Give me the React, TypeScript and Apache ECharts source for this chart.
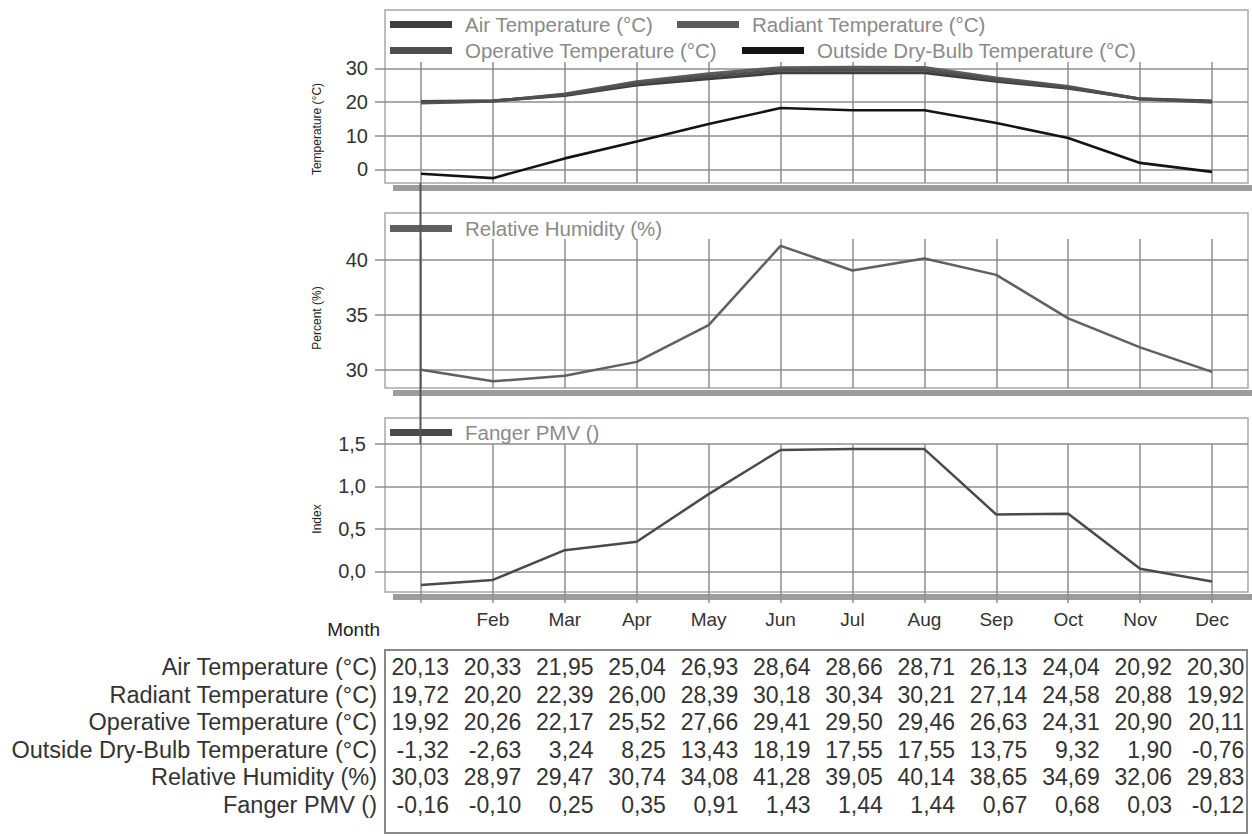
import React, { useEffect, useRef } from 'react';
import * as echarts from 'echarts';

const months = ['Jan', 'Feb', 'Mar', 'Apr', 'May', 'Jun', 'Jul', 'Aug', 'Sep', 'Oct', 'Nov', 'Dec'];
const airTemp = [20.13, 20.33, 21.95, 25.04, 26.93, 28.64, 28.66, 28.71, 26.13, 24.04, 20.92, 20.30];
const radiantTemp = [19.72, 20.20, 22.39, 26.00, 28.39, 30.18, 30.34, 30.21, 27.14, 24.58, 20.88, 19.92];
const operativeTemp = [19.92, 20.26, 22.17, 25.52, 27.66, 29.41, 29.50, 29.46, 26.63, 24.31, 20.90, 20.11];
const outsideTemp = [-1.32, -2.63, 3.24, 8.25, 13.43, 18.19, 17.55, 17.55, 13.75, 9.32, 1.90, -0.76];
const humidity = [30.03, 28.97, 29.47, 30.74, 34.08, 41.28, 39.05, 40.14, 38.65, 34.69, 32.06, 29.83];
const pmv = [-0.16, -0.10, 0.25, 0.35, 0.91, 1.43, 1.44, 1.44, 0.67, 0.68, 0.03, -0.12];

const seriesNames = [
  'Air Temperature (°C)',
  'Radiant Temperature (°C)',
  'Operative Temperature (°C)',
  'Outside Dry-Bulb Temperature (°C)',
  'Relative Humidity (%)',
  'Fanger PMV ()',
];
const axisNames = ['Temperature (°C)', 'Percent (%)', 'Index'];
const tableValues = [airTemp, radiantTemp, operativeTemp, outsideTemp, humidity, pmv];

const FONT = '"Liberation Sans", Arial, sans-serif';
const GRID_COLOR = '#8e8e8e';
const W = 1252;
const H = 837;
const PLOT_LEFT = 385;
const PLOT_RIGHT = 1248;

// layout of the three panels (frame top/bottom, grid top/bottom, axis extent)
const panels = [
  { frameTop: 10, frameBottom: 183, gridTop: 62, gridBottom: 183, min: -4.07, max: 31.87, step: 10, nameY: 129 },
  { frameTop: 213, frameBottom: 388, gridTop: 239, gridBottom: 388, min: 28.364, max: 41.909, step: 5, nameY: 318 },
  { frameTop: 418, frameBottom: 592, gridTop: 444, gridBottom: 592, min: -0.2426, max: 1.5, step: 0.5, nameY: 519 },
];

const fmt2 = (v: number) => v.toFixed(2).replace('.', ',');

export default function App() {
  const ref = useRef<HTMLDivElement>(null);

  useEffect(() => {
    if (!ref.current) return;
    const chart = echarts.init(ref.current, null, { renderer: 'svg' });

    const grid = panels.map((p) => ({
      left: PLOT_LEFT,
      right: W - PLOT_RIGHT,
      top: p.gridTop,
      height: p.gridBottom - p.gridTop,
      containLabel: false,
    }));

    const xAxis = panels.map((p, i) => {
      const last = i === 2;
      return {
        type: 'category',
        gridIndex: i,
        data: months,
        boundaryGap: true,
        axisLine: { show: false, onZero: false },
        axisTick: {
          show: last,
          alignWithLabel: true,
          interval: 0,
          length: 11,
          lineStyle: { color: GRID_COLOR, width: 1.5 },
        },
        axisLabel: {
          show: last,
          interval: 0,
          margin: 18,
          fontSize: 19,
          color: '#333',
          fontFamily: FONT,
          formatter: (v: string, idx: number) => (idx === 0 ? '' : v),
        },
        splitLine: {
          show: true,
          interval: 0,
          alignWithLabel: true,
          lineStyle: { color: GRID_COLOR, width: 1.5 },
        },
      };
    });

    const yAxis = panels.map((p, i) => ({
      type: 'value',
      gridIndex: i,
      min: p.min,
      max: p.max,
      minInterval: p.step,
      maxInterval: p.step,
      axisLine: { show: false },
      axisTick: { show: true, length: 10, lineStyle: { color: GRID_COLOR, width: 1.5 } },
      axisLabel: {
        margin: i === 2 ? 19 : 17,
        fontSize: 20,
        color: '#333',
        fontFamily: FONT,
        showMinLabel: false,
        showMaxLabel: i === 2,
        formatter: (v: number) => (i === 2 ? v.toFixed(1).replace('.', ',') : String(Math.round(v))),
      },
      splitLine: {
        show: true,
        showMinLine: false,
        showMaxLine: i === 2,
        lineStyle: { color: GRID_COLOR, width: 1.5 },
      },
    }));

    const lineSeries = (name: string, data: number[], idx: number, color: string, width: number) => ({
      type: 'line',
      name,
      data,
      xAxisIndex: idx,
      yAxisIndex: idx,
      symbol: 'none',
      color,
      lineStyle: { color, width },
      z: 3,
    });

    const series = [
      lineSeries(seriesNames[0], airTemp, 0, '#3e3e3e', 3),
      lineSeries(seriesNames[1], radiantTemp, 0, '#5c5c5c', 3),
      lineSeries(seriesNames[2], operativeTemp, 0, '#4f4f4f', 3),
      lineSeries(seriesNames[3], outsideTemp, 0, '#141414', 2.6),
      lineSeries(seriesNames[4], humidity, 1, '#606060', 2.5),
      lineSeries(seriesNames[5], pmv, 2, '#4a4a4a', 2.5),
    ];

    const legendPos = [
      { left: 390, top: 14 },
      { left: 677, top: 14 },
      { left: 390, top: 40 },
      { left: 742, top: 40 },
      { left: 390, top: 218 },
      { left: 390, top: 422 },
    ];
    const legend = seriesNames.map((n, i) => ({
      data: [n],
      left: legendPos[i].left,
      top: legendPos[i].top,
      padding: 0,
      orient: 'horizontal',
      icon: 'rect',
      itemWidth: 62,
      itemHeight: 7,
      selectedMode: false,
      textStyle: { fontSize: 20.5, color: '#8a8a8a', fontFamily: FONT, padding: [0, 0, 0, 8] },
    }));

    const graphic: any[] = [];
    panels.forEach((p) => {
      graphic.push({
        type: 'rect',
        z: -1,
        shape: { x: 393, y: p.frameBottom + 2, width: W - 393, height: 6 },
        style: { fill: '#9c9c9c' },
      });
      graphic.push({
        type: 'rect',
        z: -1,
        shape: { x: PLOT_LEFT, y: p.frameTop, width: PLOT_RIGHT - PLOT_LEFT, height: p.frameBottom - p.frameTop },
        style: { fill: 'none', stroke: '#a8a8a8', lineWidth: 1.5 },
      });
    });
    axisNames.forEach((n, i) => {
      graphic.push({
        type: 'text',
        x: 317,
        y: panels[i].nameY,
        rotation: Math.PI / 2,
        style: { text: n, fontSize: 12, fill: '#222', align: 'center', verticalAlign: 'middle', fontFamily: FONT },
      });
    });
    // cursor line linking panels
    graphic.push({
      type: 'line',
      z: 10,
      shape: { x1: 420.5, y1: 183, x2: 420.5, y2: 444 },
      style: { stroke: '#555', lineWidth: 2 },
    });
    graphic.push({
      type: 'text',
      x: 380,
      y: 629,
      style: { text: 'Month', fontSize: 19, fill: '#222', align: 'right', verticalAlign: 'middle', fontFamily: FONT },
    });
    // data table
    graphic.push({
      type: 'rect',
      shape: { x: 385, y: 650, width: 862, height: 183 },
      style: { fill: 'none', stroke: '#888', lineWidth: 2 },
    });
    seriesNames.forEach((n, r) => {
      const y = 667 + r * 27.5;
      graphic.push({
        type: 'text',
        x: 377,
        y,
        style: { text: n, fontSize: 23.5, fill: '#333', align: 'right', verticalAlign: 'middle', fontFamily: FONT },
      });
      tableValues[r].forEach((v, c) => {
        graphic.push({
          type: 'text',
          x: 449 + c * 72.3,
          y,
          style: { text: fmt2(v), fontSize: 23, fill: '#333', align: 'right', verticalAlign: 'middle', fontFamily: FONT },
        });
      });
    });

    chart.setOption({
      animation: false,
      backgroundColor: '#ffffff',
      textStyle: { fontFamily: FONT },
      grid,
      xAxis,
      yAxis,
      legend,
      series,
      graphic,
    });

    return () => chart.dispose();
  }, []);

  return (
    <div
      ref={ref}
      style={{ position: 'fixed', left: 0, top: 0, width: W, height: H, background: '#fff' }}
    />
  );
}
